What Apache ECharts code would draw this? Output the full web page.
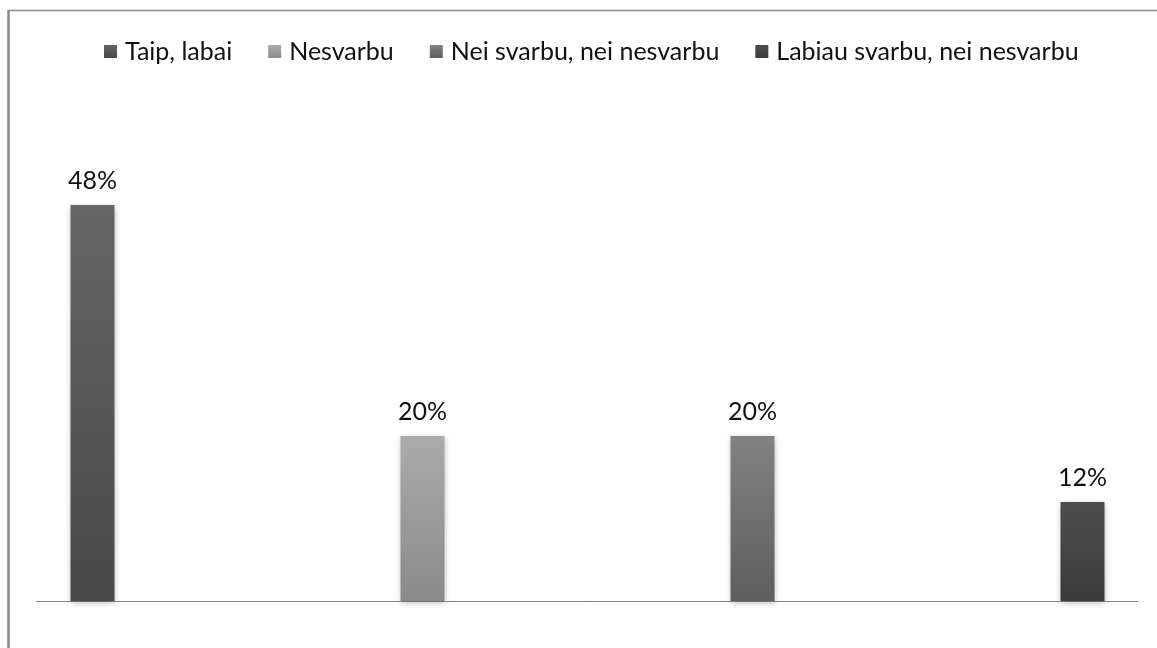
<!DOCTYPE html>
<html>
<head>
<meta charset="utf-8">
<script src="https://cdn.jsdelivr.net/npm/echarts@6/dist/echarts.min.js"></script>
<style>html,body{margin:0;padding:0;background:#fff}#c{width:1157px;height:648px}</style>
</head>
<body>
<div id="c"></div>
<script>
const seriesNames = ['Taip, labai', 'Nesvarbu', 'Nei svarbu, nei nesvarbu', 'Labiau svarbu, nei nesvarbu'];
const seriesValues = [48, 20, 20, 12];
const categories = [''];
const topColors = ['#666666', '#ababab', '#828282', '#4e4e4e'];
const bottomColors = ['#484848', '#8a8a8a', '#5e5e5e', '#3a3a3a'];

const FONT = 'Lato';
const chart = echarts.init(document.getElementById('c'), null, {renderer: 'canvas'});
const series = seriesNames.map((name, i) => ({
  name: name,
  type: 'bar',
  data: [seriesValues[i]],
  barWidth: 44,
  barGap: '650%',
  itemStyle: {
    color: new echarts.graphic.LinearGradient(0, 0, 0, 1, [
      {offset: 0, color: topColors[i]},
      {offset: 1, color: bottomColors[i]}
    ]),
    shadowBlur: 6,
    shadowColor: 'rgba(0,0,0,0.25)',
    shadowOffsetY: 2
  },
  label: {
    show: true,
    position: 'top',
    distance: 12,
    formatter: '{c}%',
    fontFamily: FONT,
    fontSize: 25,
    color: '#111'
  }
}));

chart.setOption({
  animation: false,
  backgroundColor: '#fff',
  grid: {left: 37, right: 19, top: 188.5, bottom: 47, containLabel: false},
  legend: {
    top: 34,
    left: 99,
    icon: 'rect',
    itemWidth: 13,
    itemHeight: 13,
    itemGap: 36,
    textStyle: {fontFamily: FONT, fontSize: 25, color: '#111', padding: [0, 0, 0, 3]},
    data: seriesNames
  },
  xAxis: {
    type: 'category',
    data: categories,
    axisLine: {show: true, lineStyle: {color: '#868686', width: 1}},
    axisTick: {show: false},
    axisLabel: {show: false}
  },
  yAxis: {
    type: 'value',
    min: 0,
    max: 50,
    show: false,
    splitLine: {show: false}
  },
  graphic: [
    {type: 'line', shape: {x1: 8.5, y1: 10.5, x2: 1157, y2: 10.5}, style: {stroke: '#888', lineWidth: 1.5}},
    {type: 'line', shape: {x1: 8.5, y1: 10, x2: 8.5, y2: 648}, style: {stroke: '#888', lineWidth: 2.5}}
  ],
  series: series
});
</script>
</body>
</html>
